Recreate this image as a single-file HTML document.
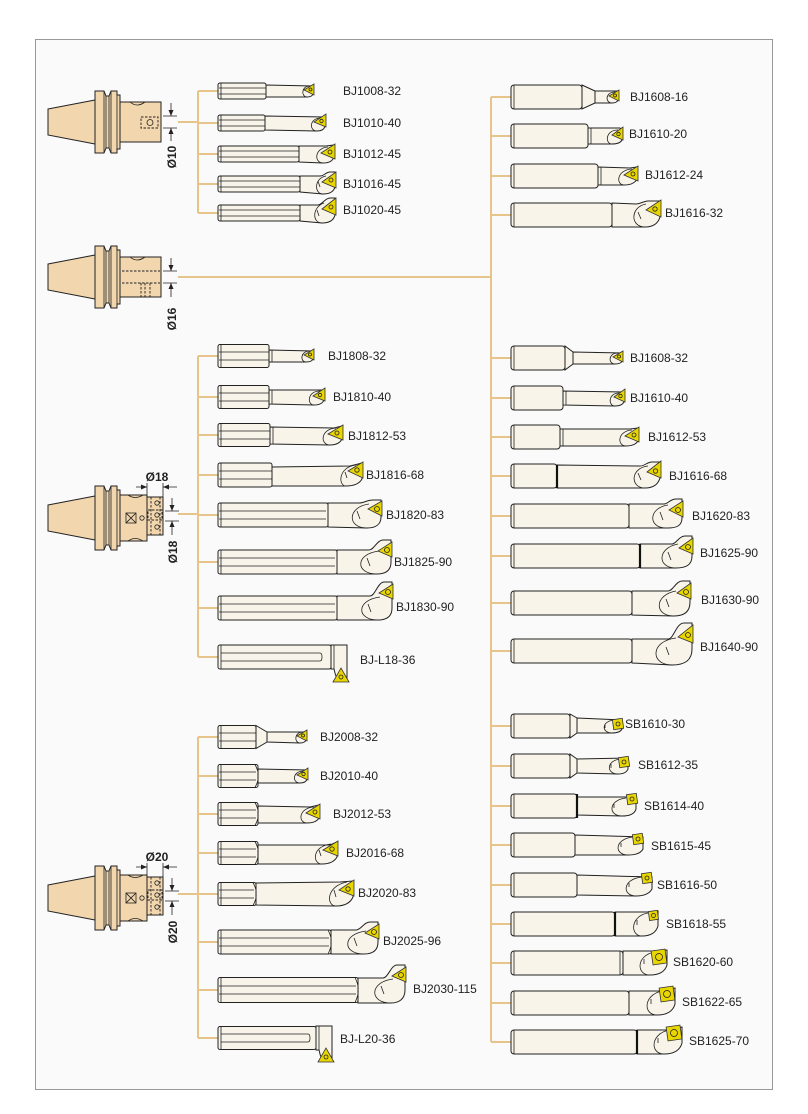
<!DOCTYPE html>
<html><head><meta charset="utf-8">
<style>
html,body{margin:0;padding:0;background:#fff;}
svg{display:block}
.t{fill:#f8f4ea;stroke:#222;stroke-width:1}
.n{fill:none;stroke:#222;stroke-width:.8}
.k{fill:none;stroke:#111;stroke-width:2.2}
.y{fill:#e9d600;stroke:#333;stroke-width:.8}
.h{fill:#f2d6ae;stroke:#222;stroke-width:1}
.c{fill:none;stroke:#e6c48a;stroke-width:2}
.d{fill:none;stroke:#222;stroke-width:.9;stroke-dasharray:2.5 1.5}
.ar{fill:#222;stroke:none}
.lb{font-family:"Liberation Sans",Arial,sans-serif;font-size:12px;fill:#222}
.dm{font-family:"Liberation Sans",Arial,sans-serif;font-size:12px;font-weight:bold;fill:#222}
</style></head><body>
<svg width="808" height="1114" viewBox="0 0 808 1114" xmlns="http://www.w3.org/2000/svg">
<rect x="0" y="0" width="808" height="1114" fill="#fff"/>
<rect x="35.5" y="39.5" width="737" height="1050" fill="#fafafa" stroke="#999"/>

<!-- connectors -->
<path class="c" d="M178,122H198M198,91V213M198,91H218M198,123H218M198,154H218M198,184H218M198,213H218"/>
<path class="c" d="M178,277H491M491,97V1042M491,97H511M491,136H511M491,176H511M491,215H511M491,358H511M491,398H511M491,437H511M491,476H511M491,516H511M491,556H511M491,603H511M491,651H511M491,726H511M491,766H511M491,806H511M491,845H511M491,885H511M491,924H511M491,963H511M491,1003H511M491,1042H511"/>
<path class="c" d="M178,514H198M198,356V657M198,356H218M198,397H218M198,435H218M198,475H218M198,515H218M198,562H218M198,608H218M198,657H218"/>
<path class="c" d="M178,894H198M198,737V1038M198,737H218M198,776H218M198,814H218M198,853H218M198,894H218M198,942H218M198,990H218M198,1038H218"/>

<!-- HOLDER 1 -->
<g transform="translate(0,122)">
<polygon class="h" points="48,-13 95,-22 95,22 48,13"/>
<path class="h" d="M95,-31H104L106,-26H109L111,-31H117V-27H120V27H117V31H111L109,26H106L104,31H95Z"/>
<path class="n" d="M104,-31V31M106,-26V26M109,-26V26M111,-31V31M117,-27V27"/>
<rect class="h" x="120" y="-20" width="41" height="40"/>
<path class="n" d="M130,-20Q137,-14 145,-20"/>
<rect class="d" x="141" y="-5" width="17" height="11"/>
<circle class="n" cx="150" cy="0.5" r="3"/>
</g>
<path class="n" d="M163,116H177M163,128H177M171,103V116M171,128V141"/>
<polygon class="ar" points="168.5,110 173.5,110 171,116"/><polygon class="ar" points="168.5,134 173.5,134 171,128"/>
<text class="dm" transform="translate(176,157) rotate(-90)" text-anchor="middle">Ø10</text>

<!-- HOLDER 2 -->
<g transform="translate(0,277)">
<polygon class="h" points="48,-13 95,-22 95,22 48,13"/>
<path class="h" d="M95,-31H104L106,-26H109L111,-31H117V-27H120V27H117V31H111L109,26H106L104,31H95Z"/>
<path class="n" d="M104,-31V31M106,-26V26M109,-26V26M111,-31V31M117,-27V27"/>
<rect class="h" x="120" y="-20" width="41" height="40"/>
<path class="n" d="M130,-20Q137,-14 145,-20"/>
<path class="d" d="M122,-6H160M122,6H160M141,6V20M145,6V20M150,6V20"/>
</g>
<path class="n" d="M163,271H177M163,283H177M171,258V271M171,283V297"/>
<polygon class="ar" points="168.5,265 173.5,265 171,271"/><polygon class="ar" points="168.5,289 173.5,289 171,283"/>
<text class="dm" transform="translate(176,319) rotate(-90)" text-anchor="middle">Ø16</text>

<!-- HOLDER 3 -->
<g transform="translate(0,518)">
<polygon class="h" points="48,-13 95,-22 95,22 48,13"/>
<path class="h" d="M95,-32H104L106,-27H109L111,-32H117V-28H120V28H117V32H111L109,27H106L104,32H95Z"/>
<path class="n" d="M104,-32V32M106,-27V27M109,-27V27M111,-32V32M117,-28V28"/>
<rect class="h" x="120" y="-23" width="27" height="46"/>
<path class="n" d="M128,-23Q135,-18 143,-23M128,23Q135,18 143,23"/>
<rect class="h" x="147" y="-21" width="16" height="38"/>
<path class="d" d="M151,-21V17M160,-21V17"/>
<rect class="d" x="148" y="-8" width="14" height="10"/>
<circle class="n" cx="157" cy="-15" r="2.2"/><circle class="n" cx="157" cy="-3" r="2.2"/><circle class="n" cx="157" cy="9" r="2.2"/>
<rect class="n" x="126" y="-5" width="10" height="10"/>
<path class="n" d="M126,-5L136,5M136,-5L126,5"/>
<circle class="n" cx="142" cy="0" r="2.2"/>
</g>
<text class="dm" x="157" y="481" text-anchor="middle">Ø18</text>
<path class="n" d="M147,483V497M163,483V497M136,487H147M163,487H177"/>
<polygon class="ar" points="141,484.5 147,487 141,489.5"/><polygon class="ar" points="169,484.5 163,487 169,489.5"/>
<path class="n" d="M165,511H179M165,521H179M172,498V511M172,521V535"/>
<polygon class="ar" points="169.5,505 174.5,505 172,511"/><polygon class="ar" points="169.5,527 174.5,527 172,521"/>
<text class="dm" transform="translate(177,552) rotate(-90)" text-anchor="middle">Ø18</text>

<!-- HOLDER 4 -->
<g transform="translate(0,898)">
<polygon class="h" points="48,-13 95,-22 95,22 48,13"/>
<path class="h" d="M95,-32H104L106,-27H109L111,-32H117V-28H120V28H117V32H111L109,27H106L104,32H95Z"/>
<path class="n" d="M104,-32V32M106,-27V27M109,-27V27M111,-32V32M117,-28V28"/>
<rect class="h" x="120" y="-23" width="27" height="46"/>
<path class="n" d="M128,-23Q135,-18 143,-23M128,23Q135,18 143,23"/>
<rect class="h" x="147" y="-21" width="16" height="38"/>
<path class="d" d="M151,-21V17M160,-21V17"/>
<rect class="d" x="148" y="-8" width="14" height="10"/>
<circle class="n" cx="157" cy="-15" r="2.2"/><circle class="n" cx="157" cy="-3" r="2.2"/><circle class="n" cx="157" cy="9" r="2.2"/>
<rect class="n" x="126" y="-5" width="10" height="10"/>
<path class="n" d="M126,-5L136,5M136,-5L126,5"/>
<circle class="n" cx="142" cy="0" r="2.2"/>
</g>
<text class="dm" x="157" y="861" text-anchor="middle">Ø20</text>
<path class="n" d="M147,863V877M163,863V877M136,867H147M163,867H177"/>
<polygon class="ar" points="141,864.5 147,867 141,869.5"/><polygon class="ar" points="169,864.5 163,867 169,869.5"/>
<path class="n" d="M165,891H179M165,901H179M172,878V891M172,901V915"/>
<polygon class="ar" points="169.5,885 174.5,885 172,891"/><polygon class="ar" points="169.5,907 174.5,907 172,901"/>
<text class="dm" transform="translate(177,932) rotate(-90)" text-anchor="middle">Ø20</text>

<!-- GROUP 1 (left top) -->
<g transform="translate(0,91)">
<path class="t" d="M266,-6L313,-5V3Q312,6 307,6H266Z"/>
<path class="n" d="M310,-5C301,-5 301,6 307,6"/>
<polygon class="y" points="304,-1 314,-7 314,4"/><circle class="n" cx="310.5" cy="-1.5" r="1.5"/>
<rect class="t" x="218" y="-8" width="48" height="16" rx="2"/>
<path class="n" d="M219,-3H266M219,3H266M221,-8V8"/>
</g>
<text class="lb" x="343" y="95">BJ1008-32</text>

<g transform="translate(0,123)">
<path class="t" d="M265,-7L325,-6V3Q324,8 317,8L265,7Z"/>
<path class="n" d="M321,-5C309,-5 309,8 317,8"/>
<polygon class="y" points="314,-1 326,-9 326,4"/><circle class="n" cx="321.5" cy="-2" r="1.7"/>
<rect class="t" x="218" y="-8" width="47" height="16" rx="2"/>
<path class="n" d="M219,-3H265M219,3H265M221,-8V8"/>
</g>
<text class="lb" x="343" y="127">BJ1010-40</text>

<g transform="translate(0,154)">
<path class="t" d="M299,-8H326L334,-9V3Q332,9 323,9L299,8Z"/>
<path class="n" d="M328,-7C314,-6 314,9 323,9"/>
<polygon class="y" points="321,-1 335,-10 335,5"/><circle class="n" cx="330" cy="-2" r="2"/>
<rect class="t" x="218" y="-8" width="81" height="16" rx="2"/>
<path class="n" d="M219,-3H299M219,3H299M221,-8V8"/>
</g>
<text class="lb" x="343" y="158">BJ1012-45</text>

<g transform="translate(0,184)">
<path class="t" d="M300,-8H320C324,-8 326,-12 330,-12H335V3Q333,10 323,10L300,8Z"/>
<path class="n" d="M326,-8C314,-6 314,10 323,10M318,-3L320,3"/>
<polygon class="y" points="322,-2 336,-12 336,4"/><circle class="n" cx="331" cy="-4" r="2"/>
<rect class="t" x="218" y="-8" width="82" height="16" rx="2"/>
<path class="n" d="M219,-3H300M219,3H300M221,-8V8"/>
</g>
<text class="lb" x="343" y="188">BJ1016-45</text>

<g transform="translate(0,213)">
<path class="t" d="M300,-8H318C322,-8 325,-15 330,-15H335V2Q333,10 322,10L300,8Z"/>
<path class="n" d="M324,-10C312,-6 312,10 322,10M317,-3L319,3"/>
<polygon class="y" points="322,-4 336,-15 336,2"/><circle class="n" cx="331" cy="-6" r="2"/>
<rect class="t" x="218" y="-8" width="82" height="16" rx="2"/>
<path class="n" d="M219,-3H300M219,3H300M221,-8V8"/>
</g>
<text class="lb" x="343" y="214">BJ1020-45</text>

<!-- RIGHT GROUP 1 -->
<g transform="translate(0,97)">
<path class="t" d="M582,-12L595,-6V6L582,12Z"/>
<path class="t" d="M595,-6H618V3Q617,6 612,6H595Z"/>
<path class="n" d="M615,-5C605,-5 605,6 612,6"/>
<polygon class="y" points="609,-1 619,-7 619,4"/><circle class="n" cx="615" cy="-1.5" r="1.5"/>
<rect class="t" x="511" y="-12" width="71" height="24" rx="3"/>
<path class="n" d="M514,-12V12"/>
</g>
<text class="lb" x="630" y="101">BJ1608-16</text>

<g transform="translate(0,136)">
<path class="t" d="M588,-8H620L622,-6V4Q620,8 612,8H588Z"/>
<path class="n" d="M618,-6C605,-6 605,8 612,8M591,-8V8"/>
<polygon class="y" points="612,-1 623,-9 623,4"/><circle class="n" cx="618.5" cy="-2" r="1.7"/>
<rect class="t" x="511" y="-12" width="77" height="24" rx="3"/>
<path class="n" d="M514,-12V12"/>
</g>
<text class="lb" x="629" y="138">BJ1610-20</text>

<g transform="translate(0,176)">
<path class="t" d="M598,-9L630,-8L637,-9V3Q634,9 624,9H598Z"/>
<path class="n" d="M632,-7C616,-6 616,9 624,9M601,-9V9"/>
<polygon class="y" points="624,-1 638,-10 638,5"/><circle class="n" cx="633" cy="-2" r="2"/>
<rect class="t" x="511" y="-12" width="87" height="24" rx="3"/>
<path class="n" d="M514,-12V12"/>
</g>
<text class="lb" x="645" y="179">BJ1612-24</text>

<g transform="translate(0,215)">
<path class="t" d="M612,-12L636,-11C640,-11 644,-14 648,-14H660V2Q657,12 645,12H612Z"/>
<path class="n" d="M646,-11C630,-8 630,12 645,12M638,-3L641,4"/>
<polygon class="y" points="646,-5 661,-15 661,2"/><circle class="n" cx="655" cy="-6" r="2.2"/>
<rect class="t" x="511" y="-12" width="101" height="24" rx="3"/>
<path class="n" d="M514,-12V12"/>
</g>
<text class="lb" x="665" y="217">BJ1616-32</text>

<!-- RIGHT GROUP 2 -->
<g transform="translate(0,358)">
<path class="t" d="M565,-12L573,-6V6L565,12Z"/>
<path class="t" d="M573,-6L622,-5V3Q621,6 615,6H573Z"/>
<path class="n" d="M618,-5C608,-5 608,6 615,6"/>
<polygon class="y" points="613,-1 623,-7 623,4"/><circle class="n" cx="619" cy="-1.5" r="1.5"/>
<rect class="t" x="511" y="-12" width="54" height="24" rx="3"/>
<path class="n" d="M514,-12V12"/>
</g>
<text class="lb" x="630" y="362">BJ1608-32</text>

<g transform="translate(0,398)">
<path class="t" d="M563,-7L624,-6V4Q622,8 615,8L563,7Z"/>
<path class="n" d="M619,-5C608,-5 608,8 615,8M566,-7V7"/>
<polygon class="y" points="614,-1 625,-9 625,4"/><circle class="n" cx="620.5" cy="-2" r="1.7"/>
<rect class="t" x="511" y="-12" width="52" height="24" rx="3"/>
<path class="n" d="M514,-12V12"/>
</g>
<text class="lb" x="630" y="402">BJ1610-40</text>

<g transform="translate(0,437)">
<path class="t" d="M560,-8H630L638,-9V4Q635,9 626,9H560Z"/>
<path class="n" d="M632,-7C617,-6 617,9 626,9M563,-8V9"/>
<polygon class="y" points="625,-1 639,-10 639,5"/><circle class="n" cx="634" cy="-2" r="2"/>
<rect class="t" x="511" y="-12" width="49" height="24" rx="3"/>
<path class="n" d="M514,-12V12"/>
</g>
<text class="lb" x="648" y="441">BJ1612-53</text>

<g transform="translate(0,476)">
<path class="t" d="M557,-11L640,-10C645,-10 647,-14 652,-14H660V2Q657,12 645,12H557Z"/>
<path class="n" d="M648,-10C630,-8 630,12 645,12M638,-3L641,4"/>
<polygon class="y" points="647,-4 661,-15 661,2"/><circle class="n" cx="655.5" cy="-5" r="2.2"/>
<rect class="t" x="511" y="-12" width="46" height="24" rx="3"/>
<path class="n" d="M514,-12V12"/>
<path class="k" d="M557,-11V12"/>
</g>
<text class="lb" x="669" y="480">BJ1616-68</text>

<g transform="translate(0,516)">
<path class="t" d="M629,-12H664C668,-12 670,-17 676,-17H682V2C682,10 676,12 668,12H629Z"/>
<path class="n" d="M668,-11C648,-8 648,12 666,12M660,-4L663,4"/>
<polygon class="y" points="669,-6 683,-15 683,1"/><circle class="n" cx="678" cy="-6" r="2.5"/>
<rect class="t" x="511" y="-12" width="118" height="24" rx="3"/>
<path class="n" d="M514,-12V12"/>
</g>
<text class="lb" x="692" y="520">BJ1620-83</text>

<g transform="translate(0,556)">
<path class="t" d="M640,-12H672C676,-12 679,-20 685,-20H692V0C692,9 686,12 676,12H640Z"/>
<path class="n" d="M678,-12C657,-8 657,12 676,12M668,-4L671,4"/>
<polygon class="y" points="679,-8 693,-18 693,-2"/><circle class="n" cx="688" cy="-9" r="2.5"/>
<rect class="t" x="511" y="-12" width="129" height="24" rx="3"/>
<path class="n" d="M514,-12V12"/>
<path class="k" d="M640,-12V12"/>
</g>
<text class="lb" x="700" y="557">BJ1625-90</text>

<g transform="translate(0,603)">
<path class="t" d="M632,-12H668C673,-12 676,-22 682,-22H690V-1C690,9 684,13 674,13L632,12Z"/>
<path class="n" d="M676,-12C654,-8 654,13 674,13M666,-4L669,4"/>
<polygon class="y" points="677,-10 691,-20 691,-4"/><circle class="n" cx="686" cy="-11" r="2.5"/>
<rect class="t" x="511" y="-12" width="121" height="24" rx="3"/>
<path class="n" d="M514,-12V12"/>
</g>
<text class="lb" x="701" y="604">BJ1630-90</text>

<g transform="translate(0,651)">
<path class="t" d="M632,-12H668C674,-12 676,-28 684,-28H692V-2C692,10 684,14 672,14L632,12Z"/>
<path class="n" d="M676,-13C650,-10 650,14 672,14M666,-4L669,4"/>
<polygon class="y" points="678,-14 693,-26 693,-8"/><circle class="n" cx="688" cy="-16" r="2.5"/>
<rect class="t" x="511" y="-12" width="121" height="24" rx="3"/>
<path class="n" d="M514,-12V12"/>
</g>
<text class="lb" x="700" y="651">BJ1640-90</text>

<!-- SB GROUP -->
<g transform="translate(0,726)">
<path class="t" d="M570,-12L577,-8V7L570,12Z"/>
<path class="t" d="M577,-8L622,-6V3Q620,7 612,7H577Z"/>
<path class="n" d="M616,-6C601,-6 601,7 612,7M605,-2V2"/>
<rect class="y" x="613" y="-7" width="10" height="10" transform="rotate(-8 618 -2)"/><circle class="n" cx="618" cy="-2" r="2"/>
<rect class="t" x="511" y="-12" width="59" height="24" rx="3"/>
<path class="n" d="M514,-12V12"/>
</g>
<text class="lb" x="625" y="728">SB1610-30</text>

<g transform="translate(0,766)">
<path class="t" d="M570,-12L577,-7V7L570,12Z"/>
<path class="t" d="M577,-7L628,-8V3Q626,8 618,8L577,7Z"/>
<path class="n" d="M621,-7C606,-6 606,8 618,8M611,-2V2"/>
<rect class="y" x="619" y="-9" width="10" height="10" transform="rotate(-8 624 -4)"/><circle class="n" cx="624" cy="-4" r="2"/>
<rect class="t" x="511" y="-12" width="59" height="24" rx="3"/>
<path class="n" d="M514,-12V12"/>
</g>
<text class="lb" x="638" y="769">SB1612-35</text>

<g transform="translate(0,806)">
<path class="t" d="M577,-9H636V3Q634,10 622,10L577,9Z"/>
<path class="n" d="M626,-8C608,-6 608,10 622,10M614,-2V2"/>
<rect class="y" x="627" y="-12" width="10" height="10" transform="rotate(-8 632 -7)"/><circle class="n" cx="632" cy="-7" r="2"/>
<rect class="t" x="511" y="-12" width="66" height="24" rx="3"/>
<path class="n" d="M514,-12V12"/>
<path class="k" d="M577,-12V12"/>
</g>
<text class="lb" x="644" y="810">SB1614-40</text>

<g transform="translate(0,845)">
<path class="t" d="M575,-10L643,-8V4Q640,10 628,10L575,10Z"/>
<path class="n" d="M633,-8C614,-6 614,10 628,10M621,-2V2"/>
<rect class="y" x="633" y="-11" width="10" height="10" transform="rotate(-8 638 -6)"/><circle class="n" cx="638" cy="-6" r="2"/>
<rect class="t" x="511" y="-12" width="64" height="24" rx="3"/>
<path class="n" d="M514,-12V12"/>
</g>
<text class="lb" x="651" y="850">SB1615-45</text>

<g transform="translate(0,885)">
<path class="t" d="M577,-10L652,-8V4Q648,11 636,11L577,10Z"/>
<path class="n" d="M642,-8C622,-6 622,11 636,11M629,-2V2"/>
<rect class="y" x="642" y="-12" width="10" height="10" transform="rotate(-8 647 -7)"/><circle class="n" cx="647" cy="-7" r="2"/>
<rect class="t" x="511" y="-12" width="66" height="24" rx="3"/>
<path class="n" d="M514,-12V12"/>
</g>
<text class="lb" x="657" y="889">SB1616-50</text>

<g transform="translate(0,924)">
<path class="t" d="M615,-12H650L658,-13V2Q655,12 642,12H615Z"/>
<path class="n" d="M648,-11C630,-8 630,12 642,12M637,-4V1"/>
<rect class="y" x="649" y="-13" width="9" height="9" transform="rotate(-8 653 -8)"/><circle class="n" cx="653.5" cy="-8.5" r="2"/>
<rect class="t" x="511" y="-12" width="104" height="24" rx="3"/>
<path class="n" d="M514,-12V12"/>
<path class="k" d="M615,-12V12"/>
</g>
<text class="lb" x="666" y="928">SB1618-55</text>

<g transform="translate(0,963)">
<path class="t" d="M623,-12H652L667,-13V2Q664,12 650,12H623Z"/>
<path class="n" d="M655,-11C636,-8 636,12 650,12M644,-4V1M620,-12V12"/>
<rect class="y" x="652" y="-13" width="14" height="14" transform="rotate(-8 659 -6)"/><circle class="n" cx="659" cy="-6" r="3.5"/>
<rect class="t" x="511" y="-12" width="112" height="24" rx="3"/>
<path class="n" d="M514,-12V12M620,-12V12"/>
</g>
<text class="lb" x="673" y="966">SB1620-60</text>

<g transform="translate(0,1003)">
<path class="t" d="M629,-12H660L675,-15V1Q672,12 657,12H629Z"/>
<path class="n" d="M662,-12C643,-8 643,12 657,12M651,-4V1"/>
<rect class="y" x="660" y="-16" width="14" height="14" transform="rotate(-8 667 -9)"/><circle class="n" cx="667" cy="-9" r="3.5"/>
<rect class="t" x="511" y="-12" width="118" height="24" rx="3"/>
<path class="n" d="M514,-12V12"/>
</g>
<text class="lb" x="682" y="1006">SB1622-65</text>

<g transform="translate(0,1042)">
<path class="t" d="M637,-12H667L682,-15V1Q679,12 664,12H637Z"/>
<path class="n" d="M669,-12C650,-8 650,12 664,12M658,-4V1"/>
<rect class="y" x="667" y="-16" width="14" height="14" transform="rotate(-8 674 -9)"/><circle class="n" cx="674" cy="-9" r="3.5"/>
<rect class="t" x="511" y="-12" width="126" height="24" rx="3"/>
<path class="n" d="M514,-12V12"/>
<path class="k" d="M637,-12V12"/>
</g>
<text class="lb" x="689" y="1045">SB1625-70</text>

<!-- GROUP 3 (Ø18) -->
<g transform="translate(0,356)">
<path class="t" d="M269,-6L313,-5V3Q312,6 306,6H269Z"/>
<path class="n" d="M310,-5C300,-5 300,6 306,6M272,-6V6"/>
<polygon class="y" points="304,-1 314,-7 314,4"/><circle class="n" cx="310" cy="-1.5" r="1.5"/>
<rect class="t" x="218" y="-11.5" width="51" height="23" rx="2"/>
<path class="n" d="M219,-4H269M219,4H269M221,-11.5V11.5"/>
</g>
<text class="lb" x="328" y="360">BJ1808-32</text>

<g transform="translate(0,397)">
<path class="t" d="M269,-7L324,-7V3Q322,8 314,8L269,7Z"/>
<path class="n" d="M320,-6C307,-6 307,8 314,8M272,-7V7"/>
<polygon class="y" points="313,-1 325,-9 325,4"/><circle class="n" cx="320" cy="-2" r="1.7"/>
<rect class="t" x="218" y="-11.5" width="51" height="23" rx="2"/>
<path class="n" d="M219,-4H269M219,4H269M221,-11.5V11.5"/>
</g>
<text class="lb" x="333" y="401">BJ1810-40</text>

<g transform="translate(0,435)">
<path class="t" d="M270,-8L334,-7L342,-9V4Q339,10 330,10L270,9Z"/>
<path class="n" d="M336,-7C320,-6 320,10 330,10M273,-8V9"/>
<polygon class="y" points="328,-1 343,-10 343,5"/><circle class="n" cx="337" cy="-2" r="2"/>
<rect class="t" x="218" y="-11.5" width="52" height="23" rx="2"/>
<path class="n" d="M219,-4H270M219,4H270M221,-11.5V11.5"/>
</g>
<text class="lb" x="348" y="440">BJ1812-53</text>

<g transform="translate(0,475)">
<path class="t" d="M272,-8L350,-9L362,-12V4Q358,11 346,11L272,11Z"/>
<path class="n" d="M356,-10C338,-8 338,11 346,11M345,-3L347,3"/>
<polygon class="y" points="348,-4 363,-13 363,3"/><circle class="n" cx="357" cy="-5" r="2.2"/>
<rect class="t" x="218" y="-12" width="54" height="24" rx="2"/>
<path class="n" d="M219,-4H272M219,4H272M221,-12V12"/>
</g>
<text class="lb" x="366" y="479">BJ1816-68</text>

<g transform="translate(0,515)">
<path class="t" d="M328,-12H359C364,-12 367,-15 373,-15H381V2C381,10 375,13 367,13L328,12Z"/>
<path class="n" d="M369,-11C347,-8 347,13 367,13M357,-4L360,4"/>
<polygon class="y" points="368,-6 382,-14 382,1"/><circle class="n" cx="377" cy="-6" r="2.5"/>
<rect class="t" x="218" y="-12" width="110" height="24" rx="2"/>
<path class="n" d="M219,-4H326M219,4H326M221,-12V12"/>
</g>
<text class="lb" x="386" y="519">BJ1820-83</text>

<g transform="translate(0,562)">
<path class="t" d="M337,-12H369C374,-12 377,-22 383,-22H391V0C391,9 385,12 377,12H337Z"/>
<path class="n" d="M379,-11C355,-8 355,12 377,12M367,-4L370,4"/>
<polygon class="y" points="378,-11 392,-20 392,-5"/><circle class="n" cx="387" cy="-12" r="2.5"/>
<rect class="t" x="218" y="-12" width="119" height="24" rx="2"/>
<path class="n" d="M219,-4H335M219,4H335M221,-12V12"/>
</g>
<text class="lb" x="394" y="566">BJ1825-90</text>

<g transform="translate(0,608)">
<path class="t" d="M337,-12H370C375,-12 378,-26 384,-26H392V0C392,9 386,12 378,12H337Z"/>
<path class="n" d="M380,-11C356,-8 356,12 378,12M368,-4L371,4"/>
<polygon class="y" points="379,-15 393,-24 393,-9"/><circle class="n" cx="388" cy="-16" r="2.5"/>
<rect class="t" x="218" y="-12" width="119" height="24" rx="2"/>
<path class="n" d="M219,-4H335M219,4H335M221,-12V12"/>
</g>
<text class="lb" x="396" y="611">BJ1830-90</text>

<g transform="translate(0,657)">
<path class="t" d="M331,-12H347V22H337Q335,17 334,12H331Z"/>
<path class="n" d="M334,-12V12"/>
<polygon class="y" points="333,25 349,25 341,11"/><circle class="n" cx="341" cy="20" r="2"/>
<rect class="t" x="218" y="-12" width="113" height="24" rx="2"/>
<path class="n" d="M221,-12V12M221,-4H320Q322,-4 322,0Q322,4 320,4H221"/>
</g>
<text class="lb" x="360" y="664">BJ-L18-36</text>

<!-- GROUP 4 (Ø20) -->
<g transform="translate(0,737)">
<path class="t" d="M256,-11.5L267,-5V5L256,11.5Z"/>
<path class="t" d="M267,-5L306,-5V3Q305,6 300,6L267,5Z"/>
<path class="n" d="M303,-5C294,-5 294,6 300,6"/>
<polygon class="y" points="297,-1 307,-7 307,4"/><circle class="n" cx="303" cy="-1.5" r="1.5"/>
<rect class="t" x="218" y="-11.5" width="38" height="23" rx="2"/>
<path class="n" d="M219,-4H256M219,4H256M221,-11.5V11.5"/>
</g>
<text class="lb" x="320" y="741">BJ2008-32</text>

<g transform="translate(0,776)">
<path class="t" d="M258,-7L307,-6V3Q306,7 300,7L258,7Z"/>
<path class="n" d="M304,-5C292,-5 292,7 300,7"/>
<polygon class="y" points="297,-1 308,-8 308,4"/><circle class="n" cx="303.5" cy="-2" r="1.7"/>
<rect class="t" x="218" y="-11.5" width="40" height="23" rx="2"/>
<path class="n" d="M219,-4H256M219,4H256M221,-11.5V11.5M255,-11.5Q259,-4 258,0Q259,4 255,11.5"/>
</g>
<text class="lb" x="320" y="780">BJ2010-40</text>

<g transform="translate(0,814)">
<path class="t" d="M258,-8L310,-7L319,-9V4Q316,9 307,9L258,9Z"/>
<path class="n" d="M314,-7C298,-6 298,9 307,9"/>
<polygon class="y" points="306,-1 320,-10 320,5"/><circle class="n" cx="315" cy="-2" r="2"/>
<rect class="t" x="218" y="-11.5" width="40" height="23" rx="2"/>
<path class="n" d="M219,-4H256M219,4H256M221,-11.5V11.5M255,-11.5Q259,-4 258,0Q259,4 255,11.5"/>
</g>
<text class="lb" x="333" y="818">BJ2012-53</text>

<g transform="translate(0,853)">
<path class="t" d="M258,-8H330L337,-11V4Q333,11 322,11L258,11Z"/>
<path class="n" d="M331,-9C312,-7 312,11 322,11M319,-3L321,3"/>
<polygon class="y" points="323,-3 338,-12 338,3"/><circle class="n" cx="332" cy="-4" r="2.2"/>
<rect class="t" x="218" y="-11.5" width="40" height="23" rx="2"/>
<path class="n" d="M219,-4H256M219,4H256M221,-11.5V11.5M255,-11.5Q259,-4 258,0Q259,4 255,11.5"/>
</g>
<text class="lb" x="346" y="857">BJ2016-68</text>

<g transform="translate(0,894)">
<path class="t" d="M256,-11L340,-12L353,-13V3Q349,12 336,12L256,11Z"/>
<path class="n" d="M347,-12C326,-8 326,12 336,12M334,-4L336,3"/>
<polygon class="y" points="339,-4 354,-14 354,2"/><circle class="n" cx="348" cy="-5" r="2.2"/>
<rect class="t" x="218" y="-11.5" width="38" height="23" rx="2"/>
<path class="n" d="M219,-4H254M219,4H254M221,-11.5V11.5M253,-11.5Q257,-4 256,0Q257,4 253,11.5"/>
</g>
<text class="lb" x="358" y="897">BJ2020-83</text>

<g transform="translate(0,942)">
<path class="t" d="M331,-12H356C361,-12 364,-20 370,-20H378V0C378,9 372,12 364,12H331Z"/>
<path class="n" d="M366,-11C342,-8 342,12 364,12M354,-4L357,4"/>
<polygon class="y" points="365,-9 379,-18 379,-3"/><circle class="n" cx="374" cy="-10" r="2.5"/>
<rect class="t" x="218" y="-12" width="113" height="24" rx="2"/>
<path class="n" d="M219,-4H329M219,4H329M221,-12V12M328,-12Q332,-4 331,0Q332,4 328,12"/>
</g>
<text class="lb" x="383" y="945">BJ2025-96</text>

<g transform="translate(0,990)">
<path class="t" d="M358,-12H383C388,-12 391,-25 397,-25H405V0C405,9 399,13 391,13H358Z"/>
<path class="n" d="M393,-11C369,-8 369,13 391,13M381,-4L384,4"/>
<polygon class="y" points="392,-14 406,-23 406,-8"/><circle class="n" cx="401" cy="-15" r="2.5"/>
<rect class="t" x="218" y="-12.5" width="140" height="25" rx="2"/>
<path class="n" d="M219,-4H356M219,4H356M221,-12.5V12.5M355,-12.5Q359,-4 358,0Q359,4 355,12.5"/>
</g>
<text class="lb" x="413" y="993">BJ2030-115</text>

<g transform="translate(0,1038)">
<path class="t" d="M316,-12H332V22H322Q320,17 319,12H316Z"/>
<path class="n" d="M319,-12V12"/>
<polygon class="y" points="318,24 334,24 326,10"/><circle class="n" cx="326" cy="19" r="2"/>
<rect class="t" x="218" y="-11.5" width="98" height="23" rx="2"/>
<path class="n" d="M221,-11.5V11.5M221,-4H308Q310,-4 310,0Q310,4 308,4H221"/>
</g>
<text class="lb" x="340" y="1043">BJ-L20-36</text>

</svg>
</body></html>
